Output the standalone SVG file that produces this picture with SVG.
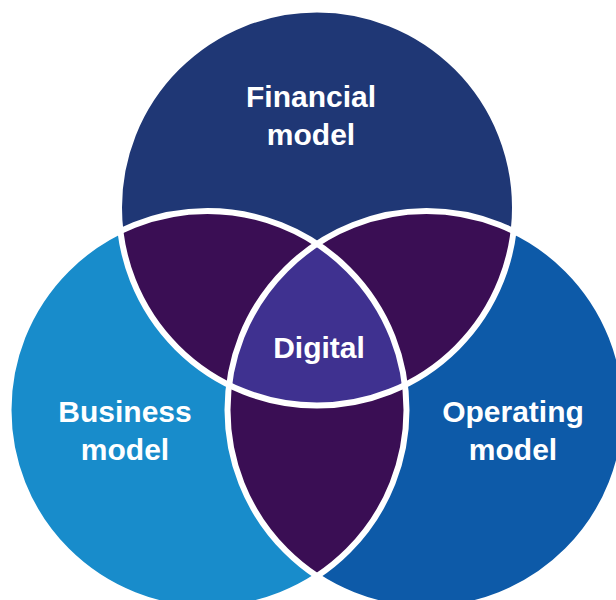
<svg xmlns="http://www.w3.org/2000/svg" width="616" height="600" viewBox="0 0 616 600">
  <style>
    .label { font-family: "Liberation Sans", Arial, sans-serif; font-weight: bold; font-size: 30px; fill: #ffffff; text-anchor: middle; }
    .ring { fill: none; stroke: #ffffff; stroke-width: 6; }
    .pair { fill: #3a0e54; }
  </style>
  <defs>
    <clipPath id="clipTop"><circle cx="317" cy="207.5" r="198"/></clipPath>
    <clipPath id="clipLeft"><circle cx="207.5" cy="410" r="199"/></clipPath>
    <clipPath id="clipRight"><circle cx="426.5" cy="410" r="199"/></clipPath>
  </defs>

  <rect width="616" height="600" fill="#ffffff"/>

  <!-- base circles -->
  <g id="financial-model">
    <circle cx="317" cy="207.5" r="198" fill="#1f3775"/>
  </g>
  <g id="business-model">
    <circle cx="207.5" cy="410" r="199" fill="#188ccb"/>
  </g>
  <g id="operating-model">
    <circle cx="426.5" cy="410" r="199" fill="#0d5aa8"/>
  </g>

  <!-- pairwise overlaps -->
  <g id="overlaps">
    <circle class="pair" cx="317" cy="207.5" r="198" clip-path="url(#clipLeft)"/>
    <circle class="pair" cx="317" cy="207.5" r="198" clip-path="url(#clipRight)"/>
    <circle class="pair" cx="207.5" cy="410" r="199" clip-path="url(#clipRight)"/>
  </g>

  <!-- centre overlap -->
  <g id="digital">
    <g clip-path="url(#clipTop)">
      <circle cx="207.5" cy="410" r="199" fill="#3f3190" clip-path="url(#clipRight)"/>
    </g>
  </g>

  <!-- white outlines -->
  <g id="outlines">
    <circle class="ring" cx="317" cy="207.5" r="198"/>
    <circle class="ring" cx="207.5" cy="410" r="199"/>
    <circle class="ring" cx="426.5" cy="410" r="199"/>
  </g>

  <g id="labels">
    <text class="label" x="311" y="107">Financial</text>
    <text class="label" x="311" y="145">model</text>
    <text class="label" x="125" y="422">Business</text>
    <text class="label" x="125" y="460">model</text>
    <text class="label" x="513" y="422">Operating</text>
    <text class="label" x="513" y="460">model</text>
    <text class="label" x="319" y="358">Digital</text>
  </g>
</svg>
